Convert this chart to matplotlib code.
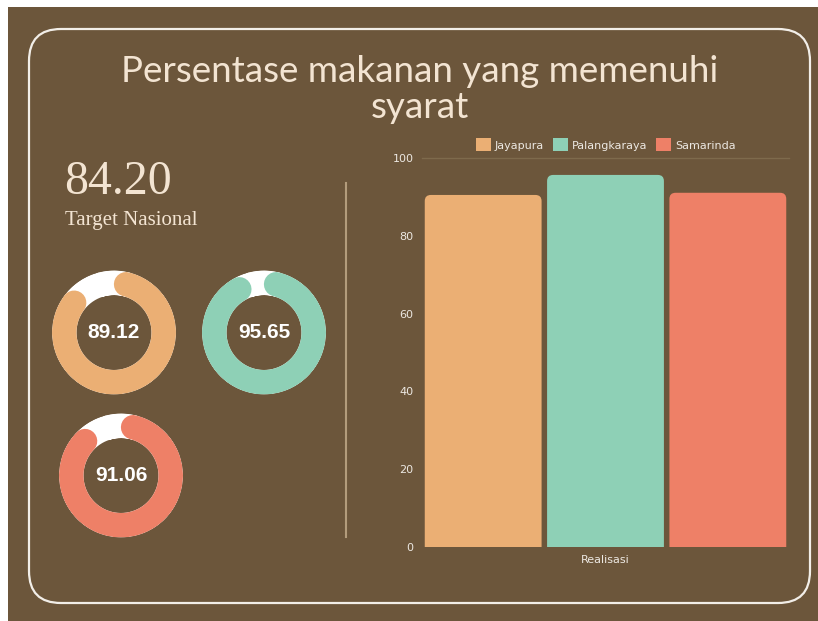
import numpy as np
import matplotlib
matplotlib.use('Agg')
from matplotlib import pyplot as plt
from matplotlib.patches import FancyBboxPatch, Rectangle, Patch

################################################################################

cities = ['Jayapura', 'Palangkaraya', 'Samarinda']
realisasi = [89.12, 95.65, 91.06]          # donut values
bar_values = [90.5, 95.65, 91.06]          # bar heights as drawn
target_nasional = 84.20
colors = ['#EBAF74', '#8ED0B6', '#EE8067']
y_ticks = [0, 20, 40, 60, 80, 100]

W, H = 818, 621
BG = '#6C563B'
CREAM = '#F3E4D2'

################################################################################

def px(x0, y0, x1, y1):
	# pixel box (top-left origin) -> figure fraction rect
	return [x0 / W, 1 - y1 / H, (x1 - x0) / W, (y1 - y0) / H]

################################################################################

fig = plt.figure(figsize=(W / 100, H / 100), dpi=100)
fig.patch.set_facecolor('white')

# overlay in pixel coordinates
ax0 = fig.add_axes([0, 0, 1, 1])
ax0.set_xlim(0, W)
ax0.set_ylim(H, 0)
ax0.axis('off')
ax0.add_patch(Rectangle((8, 7), W - 8, H - 7, facecolor=BG, edgecolor='none'))
ax0.add_patch(FancyBboxPatch((29, 29), 810 - 29, 603 - 29,
				boxstyle='round,pad=0,rounding_size=32',
				facecolor='none', edgecolor='#F2EEE8', linewidth=1.6))
ax0.text(420, 72, 'Persentase makanan yang memenuhi', ha='center', va='center',
			fontsize=26.5, color=CREAM, family='Lato', fontweight='normal')
ax0.text(420, 108, 'syarat', ha='center', va='center',
			fontsize=26.5, color=CREAM, family='Lato', fontweight='normal')
ax0.text(64, 194, f'{target_nasional:.2f}', ha='left', va='baseline',
			fontsize=34.5, color=CREAM, family='Liberation Serif')
ax0.text(65, 220, 'Target Nasional', ha='left', va='center',
			fontsize=15, color=CREAM, family='Liberation Serif')
ax0.plot([346, 346], [183, 537], color='#B39C7C', linewidth=1.5)

# donuts
centres = [(114, 332.5), (264, 332.5), (121, 475.5)]
ring_r = 49.75
ring_px = 24.5
ring_lw = ring_px * 72 / 100
cap = (ring_px / 2) / ring_r       # angle taken by a round cap
for value, colour, (cx, cy) in zip(realisasi, colors, centres):
	ax = fig.add_axes(px(cx - 62, cy - 62, cx + 62, cy + 62), projection='polar')
	ax.set_theta_zero_location('N')
	ax.set_theta_direction(-1)
	ax.set_ylim(0, 62)
	ax.patch.set_alpha(0)
	ax.axis('off')
	full = np.linspace(-0.3, 2 * np.pi + 0.3, 360)
	ax.plot(full, np.full_like(full, ring_r), color='white',
				linewidth=ring_lw, solid_capstyle='butt')
	arc = np.linspace(cap, value / 100 * 2 * np.pi - cap, 300)
	ax.plot(arc, np.full_like(arc, ring_r), color=colour,
				linewidth=ring_lw, solid_capstyle='round')
	ax.text(0.5, 0.5, f'{value:.2f}', transform=ax.transAxes,
				ha='center', va='center', fontsize=15, fontweight='bold',
				color='white', family='Liberation Sans')

# bar chart
axb = fig.add_axes(px(422, 158, 789, 547))
axb.patch.set_alpha(0)
x = np.arange(len(cities))
bars = axb.bar(x, bar_values, width=0.955, color=colors)
axb.set_xlim(-0.5, 2.5)
axb.set_ylim(0, 100)
fig.canvas.draw()
bbox = axb.get_window_extent()
aspect = (bbox.width / 3.0) / (bbox.height / 100.0)
for bar, colour in zip(bars, colors):
	bx, bw, bh = bar.get_x(), bar.get_width(), bar.get_height()
	bar.remove()
	axb.add_patch(FancyBboxPatch((bx, -5), bw, bh + 5,
				boxstyle='round,pad=0,rounding_size=0.05',
				mutation_aspect=aspect, facecolor=colour,
				edgecolor='none', clip_on=True))
axb.set_yticks(y_ticks)
axb.set_xticks([1])
axb.set_xticklabels(['Realisasi'])
axb.tick_params(length=0, colors='#ECE8E2', labelsize=8, pad=6)
for side in ['left', 'right', 'bottom']:
	axb.spines[side].set_visible(False)
axb.spines['top'].set_color('#7E6A4C')
axb.spines['top'].set_linewidth(1)
handles = [Patch(facecolor=c, edgecolor='none', label=n)
			for c, n in zip(colors, cities)]
axb.legend(handles=handles, loc='lower center', bbox_to_anchor=(0.5, 1.0),
			ncol=3, frameon=False, fontsize=8, labelcolor='#ECE8E2',
			handlelength=1.4, handleheight=1.4, handletextpad=0.3,
			columnspacing=0.8, borderaxespad=0.2)

plt.savefig('out.png', dpi=100, facecolor=fig.get_facecolor())

################################################################################
# EOF
